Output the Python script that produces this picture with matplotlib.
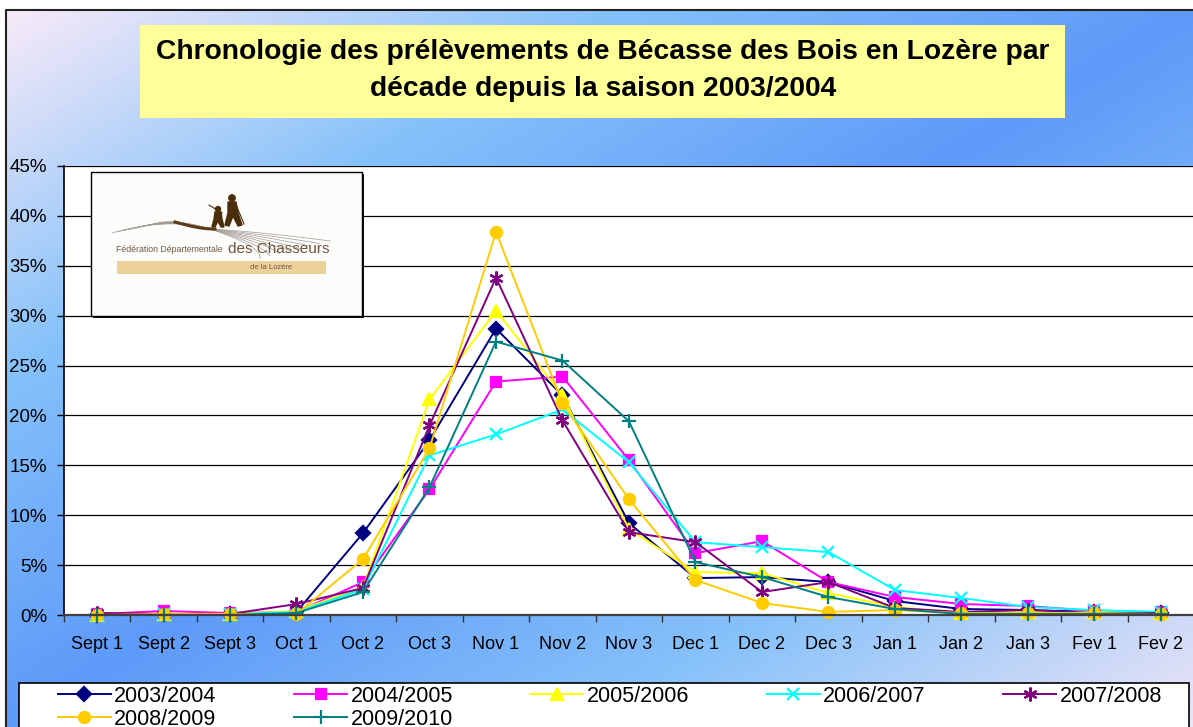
import numpy as np
import matplotlib.pyplot as plt
from matplotlib.patches import Rectangle, Polygon, Circle
from matplotlib.colors import LinearSegmentedColormap

plt.rcParams['font.family'] = ['Liberation Sans', 'DejaVu Sans']

W, H = 1193, 727

# Data (share of the season's bag per ten-day period, in %)
decades = ['Sept 1', 'Sept 2', 'Sept 3', 'Oct 1', 'Oct 2', 'Oct 3', 'Nov 1', 'Nov 2', 'Nov 3',
           'Dec 1', 'Dec 2', 'Dec 3', 'Jan 1', 'Jan 2', 'Jan 3', 'Fev 1', 'Fev 2']
seasons = ['2003/2004', '2004/2005', '2005/2006', '2006/2007', '2007/2008', '2008/2009', '2009/2010']

s2003 = [0.0, 0.1, 0.1, 0.3, 8.2, 17.5, 28.7, 22.0, 9.2, 3.7, 3.8, 3.3, 1.4, 0.6, 0.5, 0.3, 0.2]
s2004 = [0.1, 0.4, 0.2, 0.3, 3.3, 12.6, 23.4, 23.9, 15.5, 6.2, 7.4, 3.3, 1.8, 1.1, 0.9, 0.4, 0.3]
s2005 = [0.0, 0.1, 0.1, 0.4, 2.8, 21.6, 30.5, 22.0, 8.6, 4.3, 4.2, 2.2, 0.8, 0.2, 0.3, 0.3, 0.2]
s2006 = [0.0, 0.1, 0.1, 0.3, 2.6, 16.0, 18.1, 20.6, 15.3, 7.3, 6.8, 6.3, 2.5, 1.7, 0.8, 0.5, 0.3]
s2007 = [0.2, 0.1, 0.1, 1.1, 2.7, 19.0, 33.8, 19.5, 8.3, 7.3, 2.3, 3.3, 0.7, 0.3, 0.5, 0.2, 0.2]
s2008 = [0.0, 0.1, 0.1, 0.1, 5.6, 16.7, 38.4, 21.2, 11.6, 3.5, 1.2, 0.3, 0.5, 0.2, 0.2, 0.2, 0.1]
s2009 = [0.0, 0.0, 0.0, 0.2, 2.3, 12.8, 27.4, 25.5, 19.4, 5.3, 3.8, 1.8, 0.6, 0.1, 0.1, 0.1, 0.1]
series = [s2003, s2004, s2005, s2006, s2007, s2008, s2009]

colors = ['#000080', '#ff00ff', '#ffff00', '#00ffff', '#800080', '#ffcc00', '#008080']
markers = ['D', 's', '^', 'x', (6, 2, 0), 'o', '+']
msizes = [7.5, 7, 9, 9, 10, 8, 10]

fig = plt.figure(figsize=(W / 100, H / 100), dpi=100)

# Background layer in pixel coordinates
bg = fig.add_axes([0, 0, 1, 1])
bg.set_xlim(0, W)
bg.set_ylim(H, 0)
bg.axis('off')
gx, gy = np.meshgrid(np.linspace(0, 1, 300), np.linspace(0, 1, 200))
grad = (gx + gy) / 2
cmap = LinearSegmentedColormap.from_list(
    'bg', [(0, '#f7eaf8'), (0.25, '#86c2fa'), (0.5, '#5e9af8'), (0.75, '#88c2fa'), (1, '#ece4f6')])
bg.imshow(grad, cmap=cmap, extent=(6, W, H, 10), aspect='auto', zorder=0)
bg.plot([6, 6, W], [H, 10, 10], color='#222222', lw=1.5, zorder=1)

# Title box
bg.add_patch(Rectangle((140, 25), 925, 93, fc='#ffff99', ec='none', zorder=2))
bg.text(603, 52, 'Chronologie des prélèvements de Bécasse des Bois en Lozère par',
        ha='center', va='center', fontsize=20.3, fontweight='bold', zorder=3)
bg.text(603, 89, 'décade depuis la saison 2003/2004',
        ha='center', va='center', fontsize=20.3, fontweight='bold', zorder=3)

# Legend frame
bg.add_patch(Rectangle((19, 683), 1170, 60, fc='white', ec='black', lw=1.2, zorder=2))

# Main chart
ax = fig.add_axes([63.75 / W, (H - 615) / H, (1194.25 - 63.75) / W, (615 - 166) / H])
ax.set_facecolor('white')
x = np.arange(len(decades))
for vals, season, c, m, ms in zip(series, seasons, colors, markers, msizes):
    ax.plot(x, vals, color=c, marker=m, markersize=ms, mfc=c, mec=c, mew=1.6,
            lw=1.4, label=season, clip_on=False)

ax.set_xlim(-0.5, 16.5)
ax.set_ylim(0, 45)
ax.set_yticks(range(0, 50, 5))
ax.set_yticklabels([f'{v}%' for v in range(0, 50, 5)])
ax.yaxis.grid(True, color='black', lw=0.9)
ax.set_axisbelow(True)
ax.set_xticks(np.arange(-0.5, 17, 1))
ax.set_xticklabels([])
ax.set_xticks(x, minor=True)
ax.set_xticklabels(decades, minor=True)
ax.tick_params(axis='x', which='major', length=5, width=1, color='#333333')
ax.tick_params(axis='x', which='minor', length=0, pad=15, labelsize=13)
ax.tick_params(axis='y', length=5, width=1, pad=7, labelsize=13.5)
for side in ['top', 'right']:
    ax.spines[side].set_visible(False)
ax.spines['left'].set_color('black')
ax.spines['left'].set_linewidth(1.2)
ax.spines['bottom'].set_color('#404040')
ax.spines['bottom'].set_linewidth(1.6)

# Logo overlay
ov = fig.add_axes([0, 0, 1, 1], zorder=3)
ov.set_xlim(0, W)
ov.set_ylim(H, 0)
ov.axis('off')
ov.patch.set_alpha(0)
ov.add_patch(Rectangle((93, 174), 271, 144, fc='#111111', ec='none'))
ov.add_patch(Rectangle((91, 172), 271, 144, fc='#fcfcfa', ec='black', lw=1))
for k in range(8):
    t = np.linspace(0, 1, 40)
    p0, p1, p2 = np.array([112 + 6 * k, 233 - 1.2 * k]), np.array([170, 217]), np.array([210, 229])
    left = np.outer((1 - t) ** 2, p0) + np.outer(2 * t * (1 - t), p1) + np.outer(t ** 2, p2)
    q1, q2 = np.array([262, 232 + 2 * k]), np.array([330 - 10 * k, 241 + 2.5 * k])
    right = np.outer((1 - t) ** 2, p2) + np.outer(2 * t * (1 - t), q1) + np.outer(t ** 2, q2)
    ov.plot(left[:, 0], left[:, 1], color='#a39a92', lw=0.5)
    ov.plot(right[:, 0], right[:, 1], color='#a39a92', lw=0.5)
t = np.linspace(0, 1, 30)
ov.plot(175 + 40 * t, 222 + 7 * np.sin(t * np.pi / 2), color='#5a3c18', lw=2.2)
ov.add_patch(Circle((232, 198), 3.2, color='#4a2e0c'))
ov.add_patch(Polygon([(228, 202), (236, 202), (238, 213), (242, 225), (238, 226), (233, 216),
                      (229, 226), (225, 225), (228, 213)], color='#4a2e0c'))
ov.plot([237, 244], [207, 224], color='#4a2e0c', lw=0.8)
ov.add_patch(Circle((218, 209), 2.5, color='#4a2e0c'))
ov.add_patch(Polygon([(215, 212), (221, 212), (222, 219), (224, 227), (221, 227), (218, 221),
                      (215, 227), (212, 227), (214, 219)], color='#4a2e0c'))
ov.plot([209, 222], [205, 213], color='#4a2e0c', lw=0.8)
ov.text(116, 250, 'Fédération Départementale', fontsize=6.3, color='#6e5a45', va='center')
ov.text(228, 249, 'des Chasseurs', fontsize=11, color='#6e5540', va='center')
ov.add_patch(Rectangle((117, 261), 209, 13, fc='#ead29a', ec='none'))
ov.text(250, 267.5, 'de la Lozère', fontsize=5.5, color='#6e5540', va='center')

# Legend (row-major order)
handles, labels = ax.get_legend_handles_labels()
order = [0, 5, 1, 6, 2, 3, 4]
fig.legend([handles[i] for i in order], [labels[i] for i in order],
           loc='upper left', bbox_to_anchor=(47 / W, 1 - 675 / H), ncol=5, frameon=False,
           borderpad=0, fontsize=15.5, handlelength=2.47, handletextpad=0.15,
           columnspacing=3.6, labelspacing=0.1)

fig.savefig('out.png', dpi=100)
